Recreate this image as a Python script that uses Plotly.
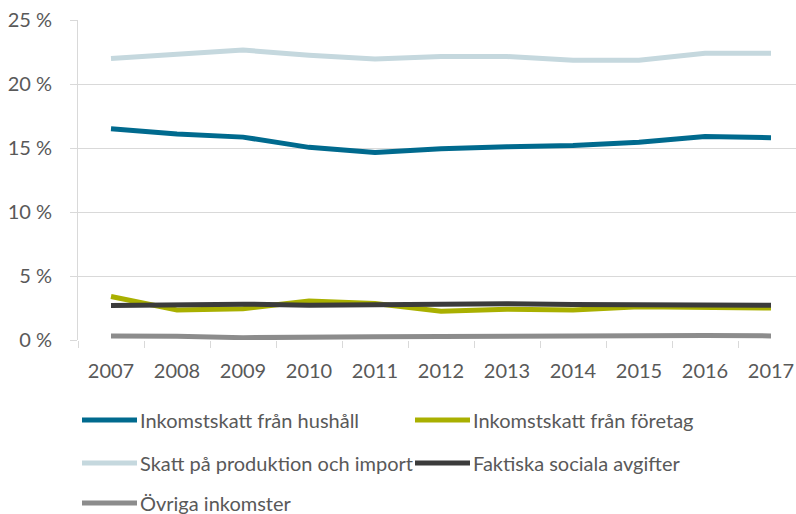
import plotly.graph_objects as go

years = ["2007", "2008", "2009", "2010", "2011", "2012", "2013", "2014", "2015", "2016", "2017"]

inkomst_hushall = [16.5, 16.1, 15.85, 15.05, 14.65, 14.95, 15.1, 15.2, 15.45, 15.9, 15.8]
inkomst_foretag = [3.4, 2.35, 2.45, 3.05, 2.85, 2.25, 2.4, 2.35, 2.6, 2.55, 2.5]
skatt_produktion = [22.0, 22.35, 22.65, 22.25, 21.95, 22.15, 22.15, 21.85, 21.85, 22.4, 22.4]
sociala_avgifter = [2.7, 2.75, 2.8, 2.72, 2.78, 2.83, 2.83, 2.78, 2.75, 2.73, 2.72]
ovriga = [0.32, 0.3, 0.18, 0.17, 0.25, 0.27, 0.3, 0.32, 0.32, 0.35, 0.32]

names = ["Inkomstskatt från hushåll", "Inkomstskatt från företag",
         "Skatt på produktion och import", "Faktiska sociala avgifter",
         "Övriga inkomster"]
series = [inkomst_hushall, inkomst_foretag, skatt_produktion, sociala_avgifter, ovriga]
colors = ["#006A8E", "#A9B000", "#C5D8DE", "#3B3B3B", "#8C8C8C"]

FONT = "Lato"
TXT = "#595959"
W, H = 796, 514
L, R, T, B = 78, 0, 20, 174
pw, ph = W - L - R, H - T - B

fig = go.Figure()
for name, vals, col in zip(names, series, colors):
    fig.add_trace(go.Scatter(x=years, y=vals, name=name, mode="lines",
                             line=dict(color=col, width=5),
                             showlegend=False))

# manual legend (two columns)
def px_x(p):
    return (p - L) / pw

def px_y(p):
    return (H - B - p) / ph

col_x = [82, 415]
row_y = [420, 463, 503]
for i, (name, col) in enumerate(zip(names, colors)):
    r, c = divmod(i, 2)
    x0 = col_x[c]
    y = row_y[r]
    fig.add_shape(type="line", xref="paper", yref="paper",
                  x0=px_x(x0), x1=px_x(x0 + 55), y0=px_y(y), y1=px_y(y),
                  line=dict(color=col, width=5))
    fig.add_annotation(xref="paper", yref="paper", x=px_x(x0 + 56), y=px_y(y),
                       text=name, showarrow=False, xanchor="left", yanchor="middle",
                       font=dict(family=FONT, size=20, color=TXT))

fig.update_layout(
    width=W, height=H,
    margin=dict(l=L, r=R, t=T, b=B, autoexpand=False),
    paper_bgcolor="white", plot_bgcolor="white",
    font=dict(family=FONT, size=20, color=TXT),
    showlegend=False,
)
fig.update_xaxes(type="category", range=[-0.5, -0.5 + pw / 66.0],
                 tickson="boundaries", ticks="outside", ticklen=7,
                 tickcolor="#d9d9d9", showline=False, showgrid=False,
                 ticklabelstandoff=17, zeroline=False, automargin=False)
fig.update_yaxes(range=[0, 25], tickvals=[0, 5, 10, 15, 20, 25],
                 ticktext=["0 %", "5 %", "10 %", "15 %", "20 %", "25 %"],
                 showgrid=True, gridcolor="#d9d9d9", gridwidth=1,
                 showline=True, linecolor="#d9d9d9", linewidth=1,
                 ticks="outside", ticklen=7, tickcolor="#d9d9d9",
                 ticklabelstandoff=14, zeroline=False, automargin=False)

fig.write_html("out.html", config={"displayModeBar": False},
               post_script="document.body.style.margin='0';document.body.style.overflow='hidden';")
